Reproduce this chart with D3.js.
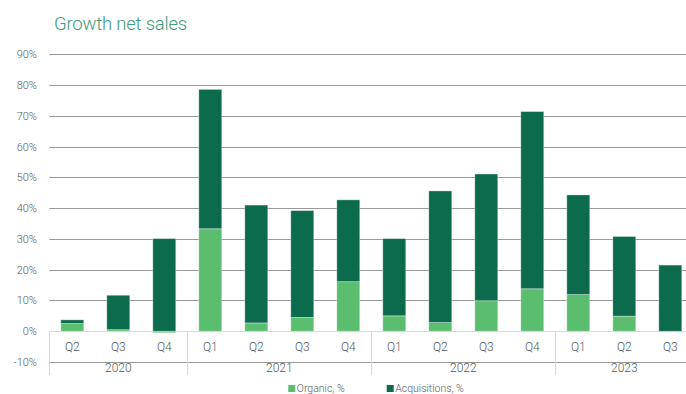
<!DOCTYPE html>
<html lang="en">

<head>
  <title>Growth net sales</title>
  <meta charset="UTF-8">
  <style>
    body {
      margin: 0;
      background: #fff;
    }
    text {
      font-family: Roboto, "Liberation Sans", sans-serif;
      font-weight: 300;
    }
  </style>
</head>

<body>
  <div id="container"></div>
  <script src="https://cdn.jsdelivr.net/npm/d3@7"></script>
  <script>
    // data
    const quarters = ['Q2', 'Q3', 'Q4', 'Q1', 'Q2', 'Q3', 'Q4', 'Q1', 'Q2', 'Q3', 'Q4', 'Q1', 'Q2', 'Q3'];
    const years = ['2020', '2021', '2022', '2023'];
    const yearCounts = [3, 4, 4, 3];
    const organic = [2.5, 0.5, -0.5, 33.3, 2.7, 4.5, 16.1, 5.0, 2.8, 9.9, 13.8, 11.9, 4.9, 0];
    const acquisitions = [1.2, 11.2, 30.1, 45.3, 38.3, 34.7, 26.6, 25.1, 42.8, 41.2, 57.6, 32.4, 25.9, 21.5];
    const yTicks = [-10, 0, 10, 20, 30, 40, 50, 60, 70, 80, 90];
    const seriesNames = ['Organic, %', 'Acquisitions, %'];

    const colors = {
      organic: '#5bbd6e',
      acq: '#0c6a4d',
      title: '#3f9a74',
      text: '#595959',
      grid: '#9a9a9a',
      table: '#d9d9d9'
    };
    const size = { w: 686, h: 394 };
    const plot = { left: 49.3, right: 693.3 };

    const x = d3.scaleBand()
      .domain(d3.range(quarters.length))
      .range([plot.left, plot.right])
      .paddingInner(0.5)
      .paddingOuter(0.25);

    const y = d3.scaleLinear()
      .domain([-10, 90])
      .range([362, 54.3]);

    const svg = d3.select('#container')
      .append('svg')
      .attr('width', size.w)
      .attr('height', size.h);

    // title
    svg.append('text')
      .attr('x', 54)
      .attr('y', 30)
      .attr('fill', colors.title)
      .style('font-size', '18.5px')
      .style('letter-spacing', '-0.2px')
      .text('Growth net sales');

    // gridlines (0 line is drawn as part of the category table)
    svg.append('g')
      .selectAll('line')
      .data(yTicks.filter(d => d !== 0))
      .join('line')
      .attr('x1', plot.left)
      .attr('x2', size.w)
      .attr('y1', d => Math.round(y(d)) + 0.5)
      .attr('y2', d => Math.round(y(d)) + 0.5)
      .attr('stroke', colors.grid)
      .attr('stroke-width', 1);

    // y labels
    svg.append('g')
      .selectAll('text')
      .data(yTicks)
      .join('text')
      .attr('x', 37)
      .attr('y', d => y(d) + 4)
      .attr('text-anchor', 'end')
      .attr('fill', colors.text)
      .style('font-size', '11px')
      .text(d => d + '%');

    // category table under the axis
    const zeroY = Math.round(y(0)) + 0.5;
    const tableBottom = 375;
    const table = svg.append('g');
    table.append('line')
      .attr('x1', plot.left).attr('x2', size.w)
      .attr('y1', zeroY).attr('y2', zeroY)
      .attr('stroke', colors.table);

    let idx = 0;
    const bounds = [0];
    yearCounts.forEach(c => { idx += c; bounds.push(idx); });
    const step = x.step();
    const edgeX = i => plot.left + i * step;
    table.selectAll('.sep')
      .data(bounds)
      .join('line')
      .attr('class', 'sep')
      .attr('x1', i => Math.round(edgeX(i)) + 0.5)
      .attr('x2', i => Math.round(edgeX(i)) + 0.5)
      .attr('y1', zeroY)
      .attr('y2', tableBottom)
      .attr('stroke', colors.table);

    table.selectAll('.q')
      .data(quarters)
      .join('text')
      .attr('class', 'q')
      .attr('x', (d, i) => x(i) + x.bandwidth() / 2)
      .attr('y', 350.5)
      .attr('text-anchor', 'middle')
      .attr('fill', colors.text)
      .style('font-size', '12px')
      .text(d => d);

    table.selectAll('.yr')
      .data(years)
      .join('text')
      .attr('class', 'yr')
      .attr('x', (d, i) => (edgeX(bounds[i]) + edgeX(bounds[i + 1])) / 2)
      .attr('y', 371.5)
      .attr('text-anchor', 'middle')
      .attr('fill', colors.text)
      .style('font-size', '12px')
      .text(d => d);

    // stacked bars: negatives go below zero, positives stack from zero
    const bars = svg.append('g');
    const segs = [];
    quarters.forEach((q, i) => {
      let pos = 0, neg = 0;
      [[organic[i], colors.organic], [acquisitions[i], colors.acq]].forEach(([v, c]) => {
        if (v >= 0) {
          segs.push({ i, y0: pos, y1: pos + v, c });
          pos += v;
        } else {
          segs.push({ i, y0: neg + v, y1: neg, c });
          neg += v;
        }
      });
    });
    bars.selectAll('rect')
      .data(segs.filter(d => d.y1 - d.y0 > 0))
      .join('rect')
      .attr('x', d => x(d.i))
      .attr('width', x.bandwidth())
      .attr('y', d => y(d.y1))
      .attr('height', d => y(d.y0) - y(d.y1))
      .attr('fill', d => d.c)
      .attr('stroke', 'rgba(255,255,255,0.45)')
      .attr('stroke-width', 0.8);

    // legend
    const legendX = [288.3, 386.7];
    const legend = svg.append('g');
    seriesNames.forEach((name, k) => {
      legend.append('rect')
        .attr('x', legendX[k])
        .attr('y', 385)
        .attr('width', 7)
        .attr('height', 7)
        .attr('fill', k === 0 ? colors.organic : colors.acq);
      legend.append('text')
        .attr('x', legendX[k] + 8.5)
        .attr('y', 391.5)
        .attr('fill', colors.text)
        .style('font-size', '10.5px')
        .text(name);
    });
  </script>
</body>

</html>
